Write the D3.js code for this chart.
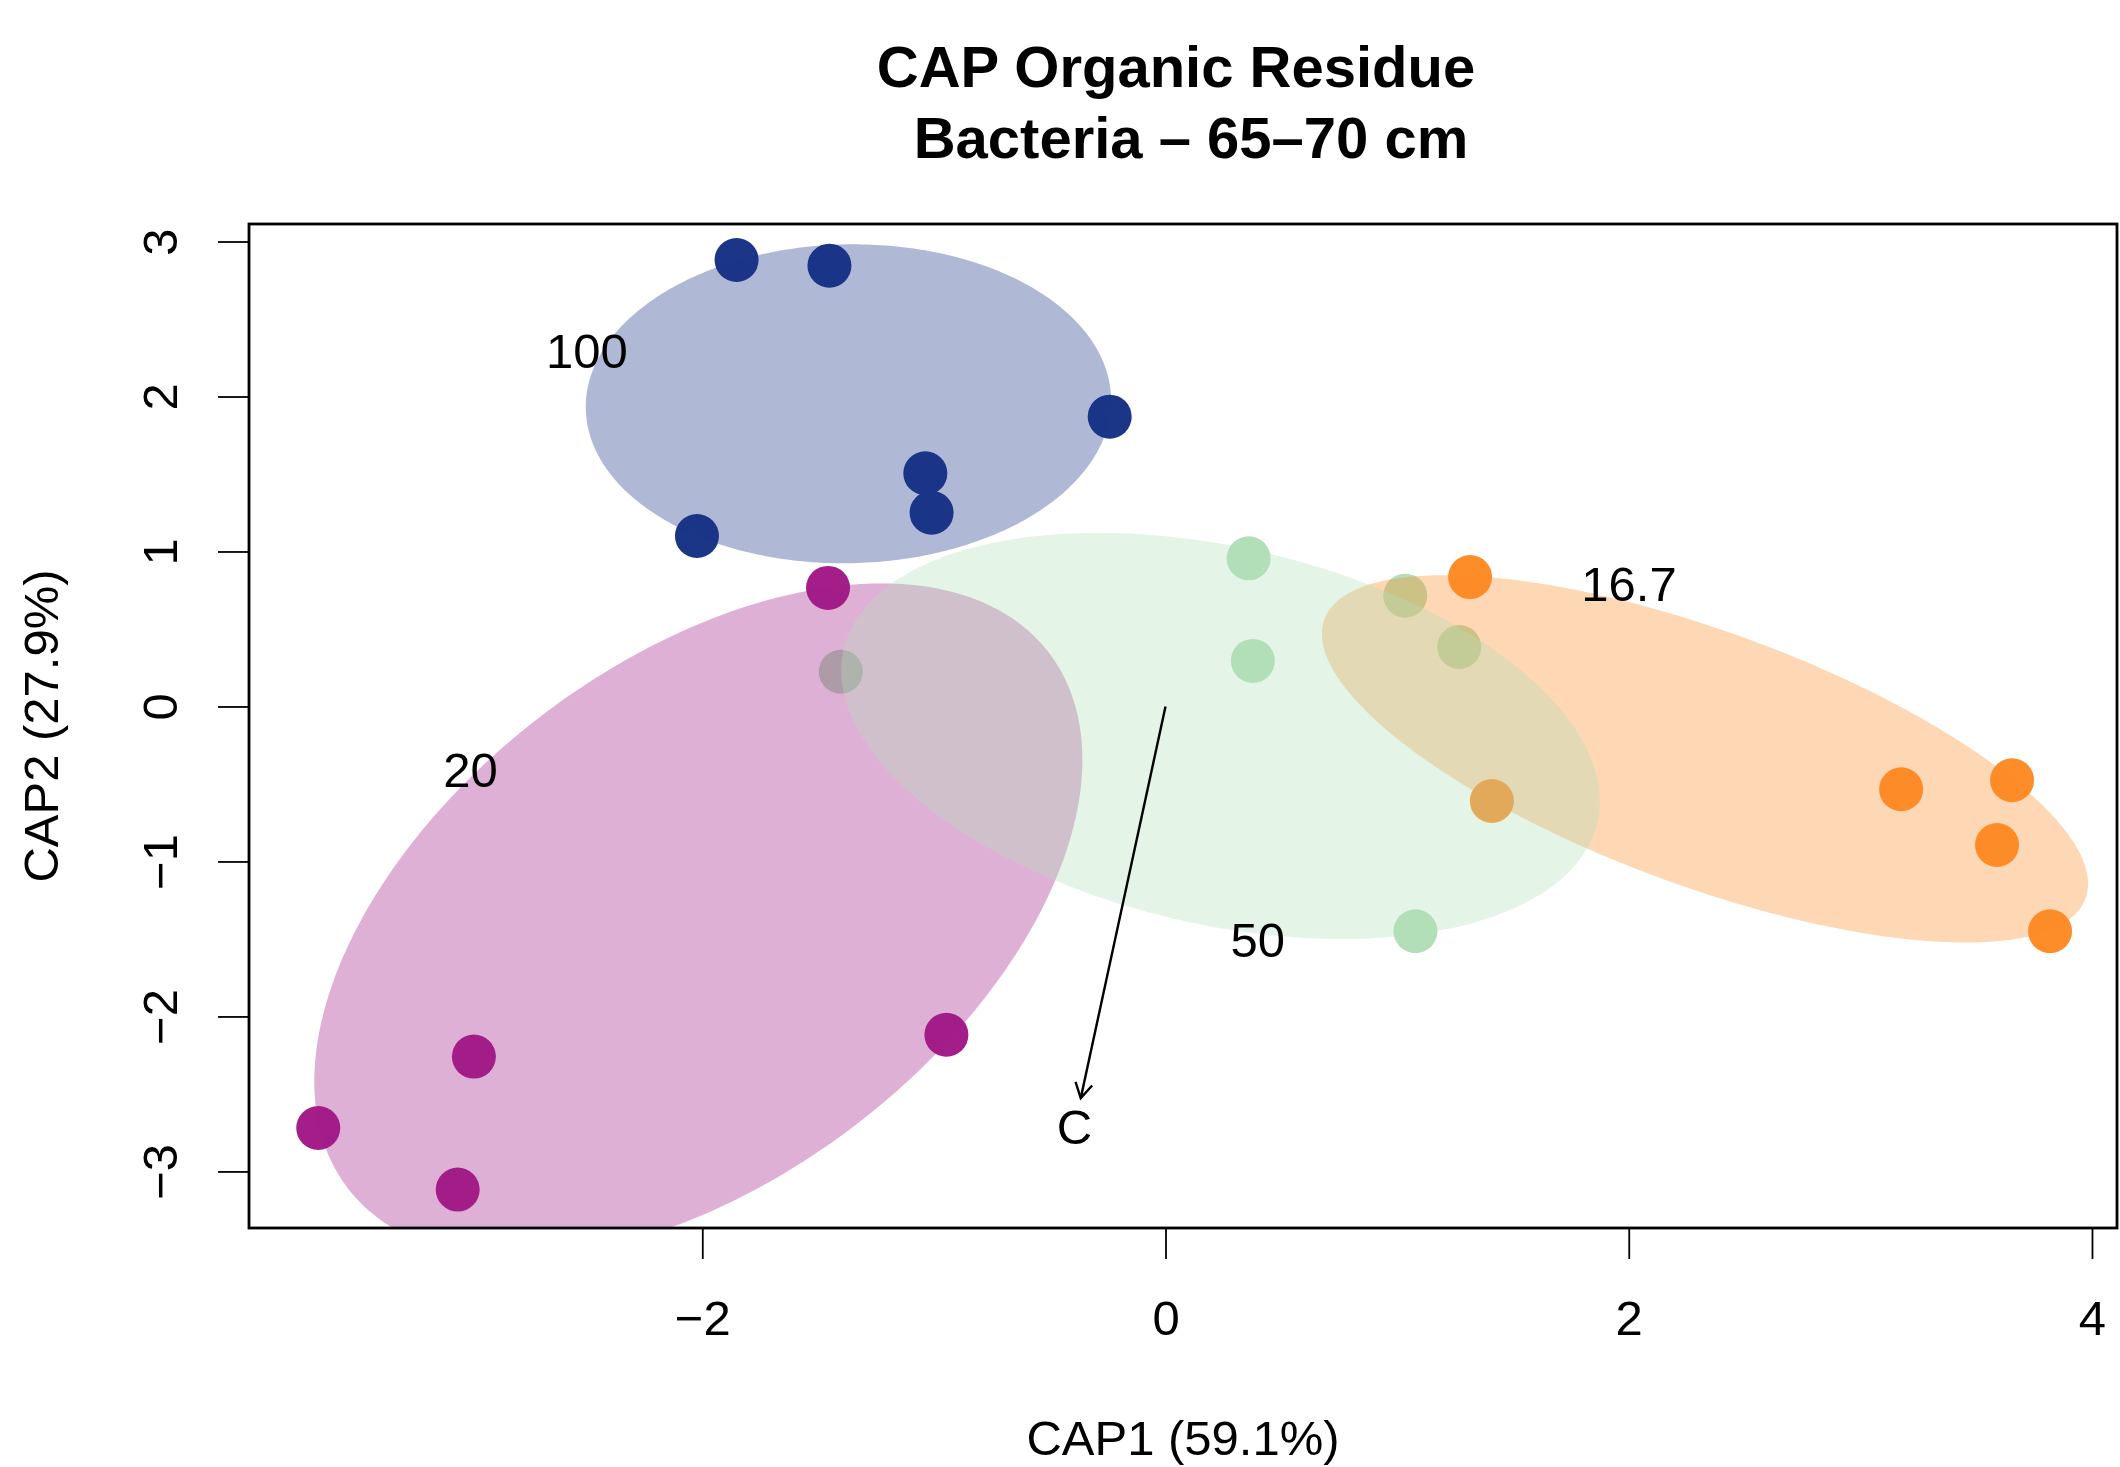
<!DOCTYPE html>
<html>
<head>
<meta charset="utf-8">
<script src="https://cdn.jsdelivr.net/npm/d3@7"></script>
<style>
  html, body { margin: 0; padding: 0; background: #fff; }
  svg { display: block; }
  text { font-family: "Liberation Sans", Arial, Helvetica, sans-serif; }
</style>
</head>
<body>
<script>
// ---------- data ----------
const groups = ["100", "16.7", "20", "50"];
const groupColors = ["#1b3587", "#fd8d28", "#a31e89", "#b3dfb8"];

// sample points (CAP1, CAP2) with group
const pointGroup = ["100","100","100","100","100","100",
                    "20","20","20","20","20",
                    "50","50","50","50","50","50",
                    "16.7","16.7","16.7","16.7","16.7","16.7"];
const pointX = [-1.852, -1.451, -0.241, -1.037, -1.010, -2.023,
                -1.457, -2.986, -3.658, -3.056, -0.946,
                 0.359,  0.377,  1.035,  1.268,  1.079, -1.402,
                 1.315,  1.409,  3.176,  3.655,  3.590,  3.819];
const pointY = [ 2.881,  2.844,  1.870,  1.505,  1.250,  1.100,
                 0.765, -2.259, -2.720, -3.117, -2.118,
                 0.956,  0.294,  0.715,  0.384, -1.450,  0.224,
                 0.835, -0.610, -0.534, -0.476, -0.894, -1.450];

// group ellipses (centre, half-extents, correlation), in group order
const ellipseCX = [-1.369,  2.329, -2.017,  0.2375];
const ellipseCY = [ 1.953, -0.338, -1.381, -0.19];
const ellipseHX = [ 1.134,  1.654,  1.658,  1.6375];
const ellipseHY = [ 1.029,  1.185,  2.175,  1.31];
const ellipseR  = [ 0.02,  -0.68,   0.477, -0.322];

// group labels
const labelText = ["100", "16.7", "20", "50"];
const labelX = [-2.498, 2.001, -3.001, 0.398];
const labelY = [ 2.297, 0.797, -0.403, -1.50];

// environmental vector
const vectorName = "C";
const vectorX = -0.366, vectorY = -2.527;
const vectorLabelX = -0.393, vectorLabelY = -2.706;

const xTicks = [-2, 0, 2, 4];
const yTicks = [-3, -2, -1, 0, 1, 2, 3];

const titleLines = ["CAP Organic Residue", "Bacteria \u2013 65\u201370 cm"];
const xTitle = "CAP1 (59.1%)";
const yTitle = "CAP2 (27.9%)";

// ---------- layout ----------
const W = 2120, H = 1467;
const L = 249, R = 2117, T = 224, B = 1228;

const x = d3.scaleLinear().domain([-3.957, 4.108]).range([L, R]);
const y = d3.scaleLinear().domain([-3.365, 3.113]).range([B, T]);
const color = d3.scaleOrdinal().domain(groups).range(groupColors);
const fmt = d => d < 0 ? "\u2212" + Math.abs(d) : String(d);

const svg = d3.select("body").append("svg").attr("width", W).attr("height", H);

svg.append("defs").append("clipPath").attr("id", "plotclip")
  .append("rect").attr("x", L).attr("y", T).attr("width", R - L).attr("height", B - T);

const plot = svg.append("g").attr("clip-path", "url(#plotclip)");

// points first
const pts = pointX.map((v, i) => ({x: v, y: pointY[i], g: pointGroup[i]}));
plot.selectAll("circle.pt").data(pts).enter().append("circle")
  .attr("class", "pt")
  .attr("cx", d => x(d.x)).attr("cy", d => y(d.y)).attr("r", 22)
  .attr("fill", d => color(d.g));

// ellipses on top, semi-transparent
const line = d3.line().x(d => x(d[0])).y(d => y(d[1])).curve(d3.curveLinearClosed);
groups.forEach((g, k) => {
  const cx = ellipseCX[k], cy = ellipseCY[k], hx = ellipseHX[k], hy = ellipseHY[k], r = ellipseR[k];
  const pts = d3.range(0, 360, 1).map(a => {
    const t = a * Math.PI / 180;
    return [cx + hx * Math.cos(t), cy + r * hy * Math.cos(t) + hy * Math.sqrt(1 - r * r) * Math.sin(t)];
  });
  plot.append("path").attr("d", line(pts))
    .attr("fill", color(g)).attr("fill-opacity", 0.35).attr("stroke", "none");
});

// vector arrow
const ax0 = x(0), ay0 = y(0), ax1 = x(vectorX), ay1 = y(vectorY);
svg.append("line").attr("x1", ax0).attr("y1", ay0).attr("x2", ax1).attr("y2", ay1)
  .attr("stroke", "#000").attr("stroke-width", 2.4);
const ang = Math.atan2(ay1 - ay0, ax1 - ax0);
const hl = 17, ha = Math.PI / 6;
const head = [
  [ax1 - hl * Math.cos(ang - ha), ay1 - hl * Math.sin(ang - ha)],
  [ax1, ay1],
  [ax1 - hl * Math.cos(ang + ha), ay1 - hl * Math.sin(ang + ha)]
];
svg.append("path").attr("d", d3.line()(head)).attr("fill", "none")
  .attr("stroke", "#000").attr("stroke-width", 2.4);
svg.append("text").attr("x", x(vectorLabelX)).attr("y", y(vectorLabelY)).attr("dy", "0.36em")
  .attr("text-anchor", "middle").attr("font-size", 49).text(vectorName);

// group labels
labelText.forEach((t, i) => {
  svg.append("text").attr("x", x(labelX[i])).attr("y", y(labelY[i])).attr("dy", "0.36em")
    .attr("text-anchor", "middle").attr("font-size", 49).text(t);
});

// box
svg.append("rect").attr("x", L).attr("y", T).attr("width", R - L).attr("height", B - T)
  .attr("fill", "none").attr("stroke", "#000").attr("stroke-width", 2.8);

// axes
const xAxis = svg.append("g").attr("transform", `translate(0,${B})`)
  .call(d3.axisBottom(x).tickValues(xTicks).tickSize(31).tickFormat(fmt));
xAxis.select(".domain").remove();
xAxis.selectAll("line").attr("stroke-width", 1.8);
xAxis.selectAll("text").attr("y", 107).attr("dy", 0).attr("font-size", 49)
  .attr("fill", "#000").style("font-family", '"Liberation Sans", Arial, sans-serif');

const yAxis = svg.append("g").attr("transform", `translate(${L},0)`)
  .call(d3.axisLeft(y).tickValues(yTicks).tickSize(31).tickFormat(fmt));
yAxis.select(".domain").remove();
yAxis.selectAll("line").attr("stroke-width", 1.8);
yAxis.selectAll("text")
  .attr("x", 0).attr("y", 0).attr("dy", 0)
  .attr("transform", "translate(-72,0) rotate(-90)")
  .attr("text-anchor", "middle").attr("font-size", 49)
  .attr("fill", "#000").style("font-family", '"Liberation Sans", Arial, sans-serif');

// titles
svg.append("text").attr("x", 1176).attr("y", 87).attr("text-anchor", "middle")
  .attr("font-size", 58).attr("font-weight", "bold").text(titleLines[0]);
svg.append("text").attr("x", 1191).attr("y", 158).attr("text-anchor", "middle")
  .attr("font-size", 58).attr("font-weight", "bold").text(titleLines[1]);

svg.append("text").attr("x", (L + R) / 2).attr("y", 1455).attr("text-anchor", "middle")
  .attr("font-size", 49).text(xTitle);
svg.append("text").attr("transform", `translate(58,${(T + B) / 2}) rotate(-90)`)
  .attr("text-anchor", "middle").attr("font-size", 49).text(yTitle);
</script>
</body>
</html>
